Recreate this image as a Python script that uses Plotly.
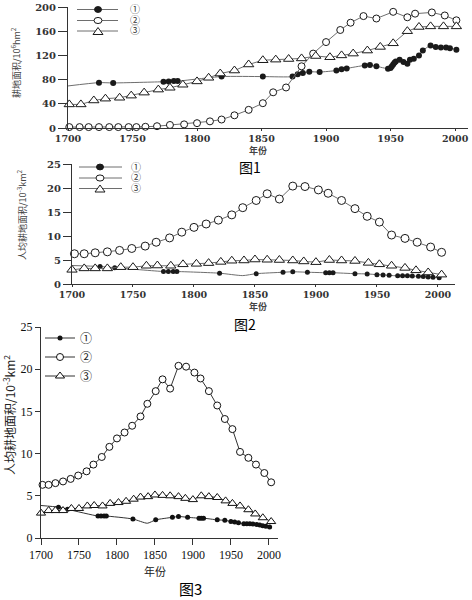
import plotly.graph_objects as go

# ---------------- data ----------------
tick_years = [1700, 1750, 1800, 1850, 1900, 1950, 2000]
p1_ticks = [0, 40, 80, 120, 160, 200]
pc_ticks = [0, 5, 10, 15, 20, 25]
series_labels = ["①", "②", "③"]

# Figure 1: cultivated area (10^6 hm^2)
p1_s1_years = [1700, 1724, 1735, 1774, 1778, 1782, 1785, 1819, 1851, 1874, 1878, 1882, 1887, 1895,
               1908, 1912, 1916, 1930, 1934, 1939, 1948, 1950, 1951, 1952, 1953, 1954, 1957, 1960,
               1963, 1965, 1968, 1972, 1975, 1981, 1985, 1989, 1993, 1996, 2001]
p1_s1_vals = [69.5, 75, 74.5, 76.5, 77, 77.5, 77.5, 85, 85, 85, 89, 91, 93, 92.5,
              95, 97, 98.5, 103.5, 104, 102, 98, 99, 102, 105, 108, 110, 113, 109,
              106, 113, 114.5, 120, 128, 136.5, 134, 133, 133, 132, 129.5]
p1_s1_unmarked = [1700]

p1_s2_years = [1701, 1709, 1716, 1724, 1732, 1739, 1747, 1753, 1760, 1769, 1779, 1790, 1800, 1810,
               1819, 1829, 1840, 1851, 1859, 1869, 1881, 1890, 1900, 1911, 1919, 1929, 1939, 1952,
               1963, 1969, 1982, 1992, 2001]
p1_s2_vals = [1.5, 1.5, 1.5, 1.5, 1.5, 1.5, 1.5, 1.5, 2, 3, 5, 6, 8, 11,
              14, 21, 30, 41, 59, 67, 102, 123, 142, 162, 174, 185, 181, 192,
              183, 189, 191, 186, 178]

p1_s3_years = [1701, 1710, 1720, 1729, 1740, 1749, 1759, 1770, 1779, 1789, 1800, 1809, 1818, 1829,
               1840, 1851, 1861, 1871, 1881, 1892, 1903, 1912, 1921, 1932, 1942, 1952, 1963, 1972,
               1981, 1991, 2001]
p1_s3_vals = [39, 39, 45.5, 48.5, 50, 53.5, 58.5, 63.5, 66.5, 71.5, 77, 83, 90, 95,
              105, 112, 113, 114, 115, 119, 117, 120, 123, 128, 134, 140, 160, 167,
              168, 168, 168]

# Figures 2 and 3: cultivated area per capita (10^-3 km^2)
pc_s1_years = [1700, 1723, 1735, 1775, 1779, 1783, 1786, 1821, 1840, 1851, 1873, 1881, 1893, 1908,
               1911, 1914, 1932, 1942, 1950, 1955, 1960, 1967, 1971, 1975, 1979, 1984, 1988, 1992,
               1996, 2001]
pc_s1_vals = [3.85, 3.65, 3.4, 2.6, 2.6, 2.6, 2.6, 2.25, 1.75, 2.15, 2.45, 2.55, 2.45, 2.35,
              2.35, 2.35, 2.15, 2.1, 1.95, 1.9, 1.8, 1.7, 1.7, 1.7, 1.65, 1.6, 1.55, 1.45,
              1.4, 1.3]
pc_s1_unmarked = [1700, 1840]

pc_s2_years = [1702, 1710, 1719, 1729, 1739, 1749, 1760, 1769, 1780, 1790, 1800, 1810, 1820, 1831,
               1840, 1851, 1860, 1870, 1881, 1891, 1902, 1910, 1921, 1932, 1942, 1952, 1962, 1973,
               1983, 1994, 2003]
pc_s2_vals = [6.3, 6.3, 6.5, 6.7, 7.0, 7.4, 7.9, 8.7, 9.6, 10.8, 11.8, 12.5, 13.3, 14.4,
              15.9, 17.4, 18.8, 17.7, 20.4, 20.3, 19.6, 18.9, 17.4, 15.7, 14.1, 12.9, 10.2, 9.5,
              8.7, 7.7, 6.6]

pc_s3_years = [1700, 1710, 1719, 1729, 1740, 1750, 1761, 1770, 1781, 1791, 1802, 1812, 1822, 1831,
               1841, 1850, 1860, 1870, 1881, 1890, 1900, 1911, 1921, 1932, 1943, 1952, 1962, 1973,
               1982, 1992, 2003]
pc_s3_vals = [2.95, 3.25, 3.25, 3.25, 3.5, 3.5, 3.8, 3.85, 3.8, 4.1, 4.2, 4.35, 4.6, 4.85,
              4.9, 5.1, 5.05, 5.0, 4.9, 4.7, 4.55, 5.0, 4.9, 4.8, 4.4, 4.1, 3.8, 3.35,
              2.85, 2.4, 1.95]

# ---------------- helpers ----------------
W, H = 472, 600


def px(x):
    return x / W


def py(y):
    return 1 - y / H


SERIF = "Liberation Serif, Times New Roman, serif"
BSERIF = "DejaVu Serif, serif"
CJK = "Noto Sans CJK SC, sans-serif"


def marked(years, vals, unmarked):
    xs = [x for x in years if x not in unmarked]
    ys = [v for x, v in zip(years, vals) if x not in unmarked]
    return xs, ys


fig = go.Figure()


def add_panel(ax, s1, s2, s3, line_col, mk_col, sizes, legend_panel=False):
    xa, ya = ax
    (s1y, s1v, s1u) = s1
    d_sz, c_sz, t_sz = sizes
    fig.add_trace(go.Scatter(x=s1y, y=s1v, mode="lines", xaxis=xa, yaxis=ya,
                             line=dict(color=line_col, width=1, shape="spline", smoothing=0.6),
                             showlegend=False, hoverinfo="skip", cliponaxis=False))
    mx, my = marked(s1y, s1v, s1u)
    fig.add_trace(go.Scatter(x=mx, y=my, mode="markers", xaxis=xa, yaxis=ya,
                             marker=dict(symbol="circle", size=d_sz, color=mk_col,
                                         line=dict(color=mk_col, width=0)),
                             showlegend=False, cliponaxis=False))
    if legend_panel:
        fig.add_trace(go.Scatter(x=[None], y=[None], mode="lines+markers", xaxis=xa, yaxis=ya,
                                 name=series_labels[0],
                                 line=dict(color=line_col, width=1),
                                 marker=dict(symbol="circle", size=d_sz, color=mk_col),
                                 showlegend=True))
    fig.add_trace(go.Scatter(x=s2[0], y=s2[1], mode="lines+markers", xaxis=xa, yaxis=ya,
                             name=series_labels[1],
                             line=dict(color=line_col, width=1),
                             marker=dict(symbol="circle", size=c_sz, color="white",
                                         line=dict(color=mk_col, width=1)),
                             showlegend=legend_panel, cliponaxis=False))
    fig.add_trace(go.Scatter(x=s3[0], y=s3[1], mode="lines+markers", xaxis=xa, yaxis=ya,
                             name=series_labels[2],
                             line=dict(color=line_col, width=1),
                             marker=dict(symbol="triangle-up", size=t_sz, color="white",
                                         line=dict(color=mk_col, width=1)),
                             showlegend=legend_panel, cliponaxis=False))


add_panel(("x", "y"), (p1_s1_years, p1_s1_vals, p1_s1_unmarked),
          (p1_s2_years, p1_s2_vals), (p1_s3_years, p1_s3_vals),
          "#6e6e6e", "#1a1a1a", (6, 7, 9))
add_panel(("x2", "y2"), (pc_s1_years, pc_s1_vals, pc_s1_unmarked),
          (pc_s2_years, pc_s2_vals), (pc_s3_years, pc_s3_vals),
          "#6e6e6e", "#1a1a1a", (5, 8, 9))
add_panel(("x3", "y3"), (pc_s1_years, pc_s1_vals, pc_s1_unmarked),
          (pc_s2_years, pc_s2_vals), (pc_s3_years, pc_s3_vals),
          "#333333", "#111111", (5, 7, 8), legend_panel=True)


def xax(dom, rng, anchor, font, ticklen):
    return dict(domain=dom, range=rng, anchor=anchor, tickvals=tick_years,
                showline=True, linecolor="#333", linewidth=1, mirror=False,
                ticks="outside", ticklen=ticklen, tickcolor="#333", tickwidth=1,
                tickfont=font, showgrid=False, zeroline=False, fixedrange=True,
                automargin=False)


def yax(dom, rng, anchor, tv, font, ticklen):
    return dict(domain=dom, range=rng, anchor=anchor, tickvals=tv,
                showline=True, linecolor="#333", linewidth=1,
                ticks="outside", ticklen=ticklen, tickcolor="#333", tickwidth=1,
                tickfont=font, showgrid=False, zeroline=False, fixedrange=True,
                automargin=False)


bold_tick = dict(family=BSERIF, size=10, color="#333", weight="bold")
bold_xtick = dict(family=BSERIF, size=9.5, color="#333", weight="bold")
reg_tick = dict(family=SERIF, size=12, color="#111")

shapes = []
annotations = []


def custom_legend(rows_y, x0, x1, xm, xl, sizes, line_col, mk_col):
    d_sz, c_sz, t_w, t_h = sizes
    for i, y in enumerate(rows_y):
        shapes.append(dict(type="line", xref="paper", yref="paper",
                           x0=px(x0), x1=px(x1), y0=py(y), y1=py(y),
                           line=dict(color=line_col, width=1)))
        base = dict(xref="paper", yref="paper", xsizemode="pixel", ysizemode="pixel",
                    xanchor=px(xm), yanchor=py(y))
        if i == 0:
            shapes.append(dict(type="circle", x0=-d_sz / 2, x1=d_sz / 2, y0=-d_sz / 2.4, y1=d_sz / 2.4,
                               fillcolor=mk_col, line=dict(color=mk_col, width=1), **base))
        elif i == 1:
            shapes.append(dict(type="circle", x0=-c_sz / 2, x1=c_sz / 2, y0=-c_sz / 2.6, y1=c_sz / 2.6,
                               fillcolor="white", line=dict(color=mk_col, width=1), **base))
        else:
            path = f"M{-t_w/2},{-t_h/2} L{t_w/2},{-t_h/2} L0,{t_h/2} Z"
            shapes.append(dict(type="path", path=path,
                               fillcolor="white", line=dict(color=mk_col, width=1), **base))
        annotations.append(dict(text=series_labels[i], xref="paper", yref="paper",
                                x=px(xl), y=py(y), xanchor="center", yanchor="middle",
                                showarrow=False, borderpad=0,
                                font=dict(family=SERIF + ", Noto Sans CJK SC", size=10, color="#333")))


custom_legend([9.5, 20.5, 31], 77, 118, 98, 135, (7, 8, 10, 7), "#6e6e6e", "#1a1a1a")
custom_legend([167, 178, 188.5], 79, 122, 100, 136, (7, 8, 10, 7), "#6e6e6e", "#1a1a1a")


def text(t, x, y, size, family=CJK, angle=0, color="#222", weight="normal"):
    annotations.append(dict(text=t, xref="paper", yref="paper", x=px(x), y=py(y),
                            xanchor="center", yanchor="middle", showarrow=False,
                            textangle=angle, borderpad=0,
                            font=dict(family=family, size=size, color=color, weight=weight)))


# axis titles
text("耕地面积/10<sup>6</sup>hm<sup>2</sup>", 16, 63, 9, angle=-90, color="#444")
text("人均耕地面积/10<sup>-3</sup>km<sup>2</sup>", 22, 215, 9, angle=-90, color="#444")
text("人均耕地面积/10<sup>-3</sup>km<sup>2</sup>", 9, 415, 12, angle=-90, color="#222")
text("年份", 258, 150, 9, color="#444", weight="bold")
text("年份", 258, 306.5, 9, color="#444", weight="bold")
text("年份", 155, 571, 11, color="#222")
# figure captions
text("图1", 250, 167, 14, color="#000")
text("图2", 245, 324, 14, color="#000")
text("图3", 190, 588, 15, color="#000")

fig.update_layout(
    width=W, height=H,
    margin=dict(l=0, r=0, t=0, b=0, pad=0, autoexpand=False),
    paper_bgcolor="white", plot_bgcolor="white",
    xaxis=xax([px(68), px(468)], [1700, 2010], "y", bold_xtick, 2),
    yaxis=yax([py(128), py(7)], [0, 200], "x", p1_ticks, bold_tick, 9),
    xaxis2=xax([px(72), px(455)], [1700, 2014], "y2", bold_xtick, 2),
    yaxis2=yax([py(284), py(164)], [0, 25], "x2", pc_ticks, bold_tick, 8),
    xaxis3=xax([px(41), px(278)], [1700, 2012], "y3", reg_tick, 6),
    yaxis3=yax([py(538), py(327)], [0, 25], "x3", pc_ticks, reg_tick, 5),
    legend=dict(x=px(40), y=py(323.5), xanchor="left", yanchor="top",
                bgcolor="rgba(0,0,0,0)", borderwidth=0, traceorder="normal",
                itemwidth=30, font=dict(family=SERIF + ", Noto Sans CJK SC", size=12, color="#222")),
    shapes=shapes,
    annotations=annotations,
    showlegend=True,
)

fig.write_html("out.html", config={"displayModeBar": False},
               post_script="document.body.style.margin='0';document.body.style.padding='0';")
